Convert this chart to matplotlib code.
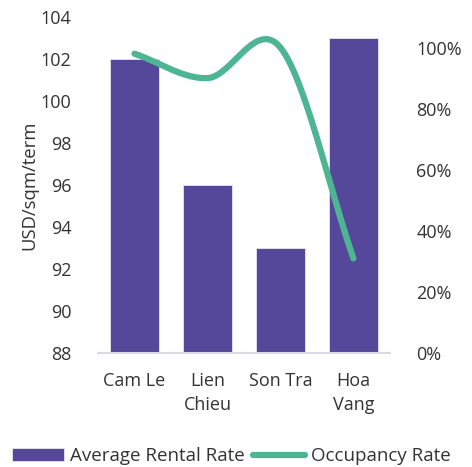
import numpy as np
import matplotlib
matplotlib.use('Agg')
import matplotlib.pyplot as plt
from matplotlib.ticker import FuncFormatter

plt.rcParams['font.family'] = ['Open Sans', 'DejaVu Sans']

# district data
districts = ['Cam Le', 'Lien\nChieu', 'Son Tra', 'Hoa\nVang']
rental_rate = [102, 96, 93, 103]        # USD/sqm/term
occupancy = [98, 90, 100, 31]           # %

bar_color = '#55489b'
line_color = '#4db592'
text_color = '#333333'


def catmull_rom(xs, ys, n=60):
    # smooth curve through the points, like a spreadsheet "smoothed line"
    xs = np.asarray(xs, float)
    ys = np.asarray(ys, float)
    px = np.concatenate([[2 * xs[0] - xs[1]], xs, [2 * xs[-1] - xs[-2]]])
    py = np.concatenate([[2 * ys[0] - ys[1]], ys, [2 * ys[-1] - ys[-2]]])
    out_x, out_y = [], []
    for i in range(1, len(px) - 2):
        t = np.linspace(0, 1, n)
        for p, o in ((px, out_x), (py, out_y)):
            p0, p1, p2, p3 = p[i - 1], p[i], p[i + 1], p[i + 2]
            m1 = (p2 - p0) / 2
            m2 = (p3 - p1) / 2
            h00 = 2 * t**3 - 3 * t**2 + 1
            h10 = t**3 - 2 * t**2 + t
            h01 = -2 * t**3 + 3 * t**2
            h11 = t**3 - t**2
            o.extend(h00 * p1 + h10 * m1 + h01 * p2 + h11 * m2)
    return np.array(out_x), np.array(out_y)


fig = plt.figure(figsize=(4.72, 4.67), dpi=100)
ax = fig.add_axes([0.2076, 0.244, 0.6184, 0.7196])
x = np.arange(len(districts))

bars = ax.bar(x, np.array(rental_rate) - 88, bottom=88, width=0.67,
              color=bar_color, edgecolor='#e6e4f0', linewidth=0.6,
              label='Average Rental Rate', zorder=2)
ax.set_ylim(88, 104)
ax.set_yticks(range(88, 105, 2))
ax.set_xlim(-0.5, len(districts) - 0.5)
ax.set_xticks(x)
ax.set_xticklabels(districts, linespacing=1.4)
ax.set_ylabel('USD/sqm/term', fontsize=13.3, color=text_color, labelpad=2)

ax2 = ax.twinx()
sx, sy = catmull_rom(x, occupancy)
line, = ax2.plot(sx, sy, color=line_color, lw=4.5, solid_capstyle='round',
                 label='Occupancy Rate', zorder=3)
ax2.set_ylim(0, 110)
ax2.set_yticks(range(0, 101, 20))
ax2.yaxis.set_major_formatter(FuncFormatter(lambda v, p: f'{v:.0f}%'))

for a in (ax, ax2):
    for s in a.spines.values():
        s.set_visible(False)
    a.tick_params(length=0, labelsize=13, colors=text_color)
ax.tick_params(axis='y', pad=19)
ax2.tick_params(axis='y', pad=19)
ax.tick_params(axis='x', pad=14)
ax.spines['bottom'].set_visible(True)
ax.spines['bottom'].set_color('#d9d9e6')
ax.spines['bottom'].set_linewidth(1.5)

fig.legend([bars, line], ['Average Rental Rate', 'Occupancy Rate'],
           loc='center', bbox_to_anchor=(0.49, 0.023), ncol=2, frameon=False,
           fontsize=13.5, handlelength=2.8, handletextpad=0.3,
           columnspacing=0.45, labelcolor=text_color)

fig.savefig('out.png', dpi=100)
